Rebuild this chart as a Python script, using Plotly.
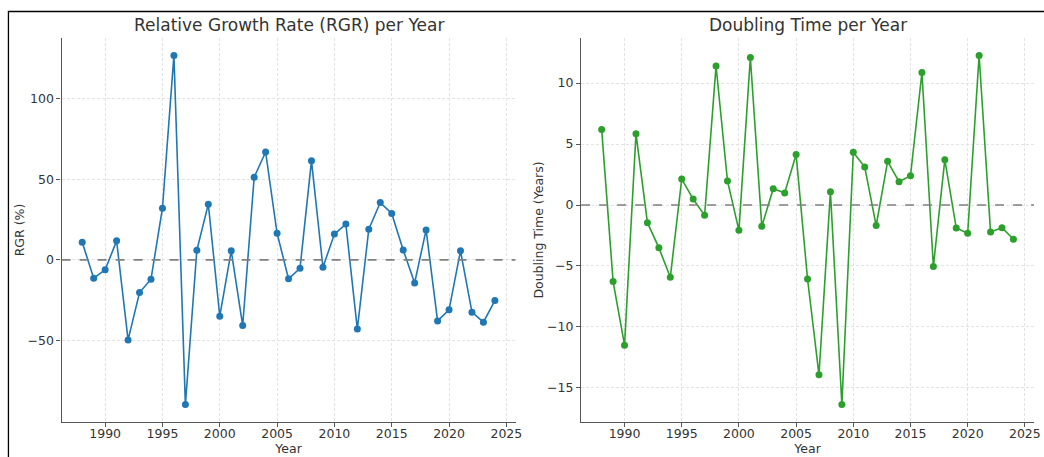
import plotly.graph_objects as go

years = list(range(1988, 2025))
rgr = [11.0, -11.4, -6.2, 11.8, -49.7, -20.3, -12.0, 32.1, 127.0, -89.9,
       6.0, 34.6, -35.0, 5.6, -40.8, 51.3, 67.0, 16.5, -11.8, -5.2,
       61.5, -4.6, 16.0, 22.2, -43.0, 19.0, 35.6, 28.8, 6.2, -14.3,
       18.6, -37.9, -31.0, 5.6, -32.5, -38.7, -25.3]
doubling = [6.2, -6.28, -11.5, 5.85, -1.45, -3.5, -5.93, 2.13, 0.49, -0.85,
            11.4, 1.97, -2.08, 12.1, -1.75, 1.34, 0.98, 4.15, -6.07, -13.93,
            1.09, -16.37, 4.32, 3.11, -1.69, 3.58, 1.91, 2.40, 10.87, -5.05,
            3.72, -1.89, -2.32, 12.27, -2.21, -1.86, -2.81]

x_ticks = [1990, 1995, 2000, 2005, 2010, 2015, 2020, 2025]
rgr_ticks = [-50, 0, 50, 100]
dt_ticks = [-15, -10, -5, 0, 5, 10]

def lab(v):
    return str(v).replace("-", "\u2212")

W, H = 1044, 457
fig = go.Figure()
fig.add_trace(go.Scatter(x=years, y=rgr, mode="lines+markers",
                         line=dict(color="#1f77b4", width=1.6),
                         marker=dict(color="#1f77b4", size=7),
                         xaxis="x", yaxis="y", showlegend=False))
fig.add_trace(go.Scatter(x=years, y=doubling, mode="lines+markers",
                         line=dict(color="#2ca02c", width=1.6),
                         marker=dict(color="#2ca02c", size=7),
                         xaxis="x2", yaxis="y2", showlegend=False))

font = dict(family="DejaVu Sans", size=12.5, color="#333333")
ydom = [(H - 422) / H, (H - 38) / H]
grid = "#e3e3e3"

def xaxis(dom, anchor):
    return dict(domain=dom, anchor=anchor, range=[1986.2, 2025.8],
                tickvals=x_ticks, ticktext=[str(t) for t in x_ticks],
                showgrid=True, gridcolor=grid, griddash="3px,2px", gridwidth=0.8,
                showline=True, linecolor="#555555", linewidth=1.2, mirror=False,
                ticks="outside", ticklen=4, tickcolor="#555555",
                ticklabelstandoff=-4,
                zeroline=False, tickfont=font,
                title=dict(text="Year", font=font, standoff=4))

def yaxis(anchor, rng, ticks, title):
    return dict(domain=ydom, anchor=anchor, range=rng,
                tickvals=ticks, ticktext=[lab(t) for t in ticks],
                showgrid=True, gridcolor=grid, griddash="3px,2px", gridwidth=0.8,
                showline=True, linecolor="#555555", linewidth=1.2, mirror=False,
                ticks="outside", ticklen=4, tickcolor="#555555",
                zeroline=False, tickfont=font,
                title=dict(text=title, font=font, standoff=0))

fig.update_layout(
    width=W, height=H,
    margin=dict(l=0, r=0, t=0, b=0),
    paper_bgcolor="white", plot_bgcolor="white",
    xaxis=xaxis([62 / W, 519 / W], "y"),
    yaxis=yaxis("x", [-100.7, 137.8], rgr_ticks, "RGR (%)"),
    xaxis2=xaxis([585 / W, 1041 / W], "y2"),
    yaxis2=yaxis("x2", [-17.8, 13.7], dt_ticks, "Doubling Time (Years)"),
    shapes=[
        dict(type="line", xref="x domain", yref="y", x0=0, x1=1, y0=0, y1=0,
             line=dict(color="#808080", width=1.6, dash="dash"), layer="above"),
        dict(type="line", xref="x2 domain", yref="y2", x0=0, x1=1, y0=0, y1=0,
             line=dict(color="#808080", width=1.6, dash="dash"), layer="above"),
        dict(type="rect", xref="paper", yref="paper",
             x0=8.5 / W, x1=1.02, y0=-0.05, y1=(H - 11.5) / H,
             line=dict(color="black", width=1.3), fillcolor="rgba(0,0,0,0)"),
    ],
    annotations=[
        dict(text="Relative Growth Rate (RGR) per Year", xref="paper", yref="paper",
             x=(62 + 519) / 2 / W, y=(H - 25) / H, showarrow=False,
             font=dict(family="DejaVu Sans", size=17, color="#333333"),
             xanchor="center", yanchor="middle"),
        dict(text="Doubling Time per Year", xref="paper", yref="paper",
             x=(585 + 1041) / 2 / W, y=(H - 25) / H, showarrow=False,
             font=dict(family="DejaVu Sans", size=17, color="#333333"),
             xanchor="center", yanchor="middle"),
    ],
)

fig.write_html("out.html", config={"displayModeBar": False},
               post_script="document.body.style.margin='0';document.body.style.overflow='hidden';")
